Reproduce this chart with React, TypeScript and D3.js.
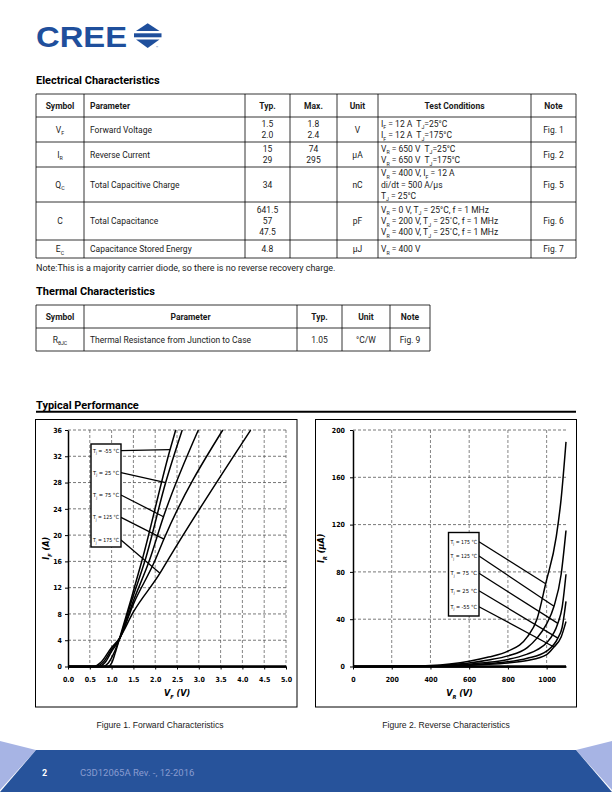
import React, { useEffect, useRef } from "react";
import * as d3 from "d3";

// ---- table content ----
const elecHead = ["Symbol", "Parameter", "Typ.", "Max.", "Unit", "Test Conditions", "Note"];
const elecSymbols = ["V_{F}", "I_{R}", "Q_{C}", "C", "E_{C}"];
const elecParams = ["Forward Voltage", "Reverse Current", "Total Capacitive Charge", "Total Capacitance", "Capacitance Stored Energy"];
const elecTyp = [["1.5", "2.0"], ["15", "29"], ["34"], ["641.5", "57", "47.5"], ["4.8"]];
const elecMax = [["1.8", "2.4"], ["74", "295"], [], [], []];
const elecUnit = ["V", "μA", "nC", "pF", "μJ"];
const elecCond = [
  ["I_{F} = 12 A\u00a0 T_{J}=25°C", "I_{F} = 12 A\u00a0 T_{J}=175°C"],
  ["V_{R} = 650 V\u00a0 T_{J}=25°C", "V_{R} = 650 V\u00a0 T_{J}=175°C"],
  ["V_{R} = 400 V, I_{F} = 12 A", "di/dt = 500 A/μs", "T_{J} = 25°C"],
  ["V_{R} = 0 V, T_{J} = 25°C, f = 1 MHz", "V_{R} = 200 V, T_{J} = 25˚C, f = 1 MHz", "V_{R} = 400 V, T_{J} = 25˚C, f = 1 MHz"],
  ["V_{R} = 400 V"],
];
const elecNote = ["Fig. 1", "Fig. 2", "Fig. 5", "Fig. 6", "Fig. 7"];

const thermHead = ["Symbol", "Parameter", "Typ.", "Unit", "Note"];
const thermRow = ["R_{θJC}", "Thermal Resistance from Junction to Case", "1.05", "°C/W", "Fig. 9"];

// ---- Figure 1: forward characteristics, [VF (V), IF (A)] ----
const tempLabels = ["-55", "25", "75", "125", "175"];
const fwdM55 = [[0, 0], [0.92, 0], [1.0, 0.5], [1.08, 2], [1.17, 4], [1.45, 10.3], [1.7, 16.2], [2.34, 33], [2.47, 36]];
const fwd25 = [[0, 0], [0.8, 0], [0.92, 0.5], [1.05, 2], [1.17, 4], [1.5, 10.8], [1.77, 16.2], [2.24, 28], [2.62, 36]];
const fwd75 = [[0, 0], [0.7, 0], [0.85, 0.6], [1.0, 2.3], [1.17, 4], [1.5, 10], [1.87, 16.2], [2.19, 22.8], [2.99, 36]];
const fwd125 = [[0, 0], [0.65, 0], [0.8, 0.6], [1.0, 2.6], [1.17, 4.1], [1.5, 9.5], [2.0, 16.2], [2.2, 19.4], [3.55, 36]];
const fwd175 = [[0, 0], [0.6, 0], [0.75, 0.6], [1.0, 2.9], [1.17, 4.2], [1.5, 8.3], [2.11, 14.2], [2.29, 16.2], [4.19, 36]];
const fwdTargets = [[2.34, 33], [2.24, 28], [2.19, 22.8], [2.2, 19.4], [2.11, 14.2]];
const fwdXTicks = d3.range(0, 5.01, 0.5);
const fwdYTicks = d3.range(0, 37, 4);

// ---- Figure 2: reverse characteristics, [VR (V), IR (uA)] ----
const revLabels = ["175", "125", "75", "25", "-55"];
const rev175 = [[0, 0], [300, 0.2], [400, 0.8], [500, 2.2], [600, 4.5], [700, 8], [800, 13], [900, 25], [950, 40], [995, 70], [1050, 110], [1075, 142], [1100, 190]];
const rev125 = [[0, 0], [400, 0.5], [500, 1.5], [600, 3], [700, 5.5], [800, 9], [900, 16], [950, 24], [1000, 36], [1038, 51], [1075, 78], [1100, 115]];
const rev75 = [[0, 0], [400, 0.3], [500, 1], [600, 2], [700, 3.5], [800, 6], [900, 10.5], [950, 14], [1000, 20], [1058, 36.5], [1080, 50], [1100, 78]];
const rev25 = [[0, 0], [400, 0.2], [500, 0.6], [600, 1.3], [700, 2.5], [800, 4], [900, 7], [1000, 13], [1058, 24], [1080, 33], [1100, 55]];
const revM55 = [[0, 0], [500, 0.4], [600, 1], [700, 1.8], [800, 3], [900, 5], [1000, 10], [1038, 16.5], [1075, 25], [1100, 38]];
const revTargets = [[995, 70], [1038, 51], [1058, 36.5], [1058, 24], [1038, 16.5]];
const revXTicks = d3.range(0, 1001, 200);
const revYTicks = d3.range(0, 201, 40);

const UI = "Roboto, 'Liberation Sans', sans-serif";
const CH = "'Liberation Sans Narrow', 'DejaVu Sans Condensed', 'Liberation Sans', sans-serif";
const BLUE = "#27539b";

// text with _{sub} parts
const addRich = (parent, x, y, str, o = {}) => {
  const size = o.size || 8;
  const t = parent
    .append("text")
    .attr("x", x)
    .attr("y", y)
    .attr("font-size", size)
    .attr("font-family", o.family || UI)
    .attr("font-weight", o.weight || "normal")
    .attr("font-style", o.style || "normal")
    .attr("text-anchor", o.anchor || "start")
    .attr("fill", o.fill || "#1a1a1a");
  if (o.transform) t.attr("transform", o.transform);
  if (o.len) t.attr("textLength", o.len).attr("lengthAdjust", "spacingAndGlyphs");
  let shifted = false;
  str.split(/(_\{[^}]*\})/).forEach((p) => {
    if (!p) return;
    if (p.startsWith("_{")) {
      t.append("tspan").attr("dy", size * 0.3).attr("font-size", size * 0.62).text(p.slice(2, -1));
      shifted = true;
    } else {
      const ts = t.append("tspan").text(p);
      if (shifted) ts.attr("dy", -size * 0.3);
      shifted = false;
    }
  });
  return t;
};

const drawTable = (g, cols, rows, cells, aligns, headAligns) => {
  rows.forEach((ry) =>
    g.append("line").attr("x1", cols[0]).attr("x2", cols[cols.length - 1]).attr("y1", ry).attr("y2", ry).attr("stroke", "#000").attr("stroke-width", 0.8)
  );
  cols.forEach((cx) =>
    g.append("line").attr("x1", cx).attr("x2", cx).attr("y1", rows[0]).attr("y2", rows[rows.length - 1]).attr("stroke", "#000").attr("stroke-width", 0.8)
  );
  cells.forEach((row, ri) => {
    const yTop = rows[ri];
    const yBot = rows[ri + 1];
    const cy = (yTop + yBot) / 2;
    row.forEach((lines, ci) => {
      const al = ri === 0 ? headAligns[ci] : aligns[ci];
      const x0 = cols[ci];
      const x1 = cols[ci + 1];
      lines.forEach((s, i) => {
        const y = cy + (i - (lines.length - 1) / 2) * 11.3 + 3;
        const x = al.a === "middle" ? (x0 + x1) / 2 : x0 + al.pad;
        addRich(g, x, y, s, { size: 8.5, anchor: al.a, weight: ri === 0 ? "bold" : "normal" });
      });
    });
  });
};

const drawChart = (svg, c) => {
  const x = d3.scaleLinear().domain(c.xDomain).range([c.left, c.right]);
  const y = d3.scaleLinear().domain(c.yDomain).range([c.bottom, c.top]);
  const g = svg.append("g");

  // frame
  g.append("rect").attr("x", c.frame[0]).attr("y", c.frame[1]).attr("width", c.frame[2]).attr("height", c.frame[3])
    .attr("fill", "#fff").attr("stroke", "#000").attr("stroke-width", 1);

  // grid
  c.xGrid.forEach((v) =>
    g.append("line").attr("x1", x(v)).attr("x2", x(v)).attr("y1", c.top).attr("y2", c.bottom)
      .attr("stroke", "#666").attr("stroke-width", 0.8).attr("stroke-dasharray", "3,2")
  );
  c.yTicks.filter((v) => v > 0).forEach((v) =>
    g.append("line").attr("x1", c.left).attr("x2", c.right).attr("y1", y(v)).attr("y2", y(v))
      .attr("stroke", "#555").attr("stroke-width", 0.8).attr("stroke-dasharray", "3,2")
  );

  // curves
  const line = d3.line().x((d) => x(d[0])).y((d) => y(d[1])).curve(d3.curveMonotoneX);
  c.series.forEach((s) =>
    g.append("path").attr("d", line(s)).attr("fill", "none").attr("stroke", "#000").attr("stroke-width", 1.5)
  );

  // axes
  const ya = g.append("g").attr("transform", `translate(${c.left},0)`)
    .call(d3.axisLeft(y).tickValues(c.yTicks).tickSize(3).tickSizeOuter(0).tickPadding(c.yPad));
  const xa = g.append("g").attr("transform", `translate(0,${c.bottom})`)
    .call(d3.axisBottom(x).tickValues(c.xTicks).tickSize(3).tickSizeOuter(0).tickPadding(8).tickFormat(c.xFmt));
  [ya, xa].forEach((a) => {
    a.select(".domain").attr("stroke", "#000").attr("stroke-width", 1.5);
    a.selectAll(".tick line").attr("stroke", "#000");
    a.selectAll("text").attr("font-family", CH).attr("font-size", 7).attr("font-weight", "bold").attr("fill", "#000");
  });
  g.append("line").attr("x1", c.left).attr("x2", c.right).attr("y1", c.bottom).attr("y2", c.bottom)
    .attr("stroke", "#000").attr("stroke-width", 2.5);

  // axis titles
  addRich(g, (c.left + c.right) / 2, 696, c.xTitle, { size: 9, anchor: "middle", weight: "bold", style: "italic", family: CH, fill: "#000" });
  addRich(g, 0, 0, c.yTitle, {
    size: 9, anchor: "middle", weight: "bold", style: "italic", family: CH, fill: "#000",
    transform: `translate(${c.yTitleX},${(c.top + c.bottom) / 2}) rotate(-90)`,
  });

  // label box and leader lines
  const [bx, by, bw, bh] = c.box;
  c.targets.forEach((t, i) =>
    g.append("line").attr("x1", bx + bw).attr("y1", c.labelY[i]).attr("x2", x(t[0])).attr("y2", y(t[1]))
      .attr("stroke", "#000").attr("stroke-width", 1.3)
  );
  g.append("rect").attr("x", bx).attr("y", by).attr("width", bw).attr("height", bh)
    .attr("fill", "#fff").attr("stroke", "#000").attr("stroke-width", 1.4);
  c.labels.forEach((l, i) =>
    addRich(g, bx + 2, c.labelY[i] + 2, `T_{J} = ${l} °C`, { size: 5.6, family: CH, fill: "#000", len: bw - 4 })
  );
};

const App = () => {
  const ref = useRef();

  useEffect(() => {
    const svg = d3.select(ref.current);
    svg.selectAll("*").remove();

    // logo
    svg.append("text").attr("x", 36).attr("y", 47).attr("font-family", "'Liberation Sans', Arial, sans-serif")
      .attr("font-weight", "bold").attr("font-size", 30).attr("fill", "#1f4f9c")
      .attr("textLength", 91).attr("lengthAdjust", "spacingAndGlyphs").text("CREE");
    svg.append("polygon").attr("points", "136,31 159.5,31 147.7,23.3").attr("fill", "#1f4f9c");
    svg.append("rect").attr("x", 134).attr("y", 33.3).attr("width", 27.5).attr("height", 4).attr("fill", "#1f4f9c");
    svg.append("polygon").attr("points", "136,39.5 159.5,39.5 147.7,48").attr("fill", "#1f4f9c");
    svg.append("text").attr("x", 156).attr("y", 48.5).attr("font-size", 3.5).attr("font-family", UI).attr("fill", "#1f4f9c").text("™");

    // Electrical Characteristics
    addRich(svg, 36, 84, "Electrical Characteristics", { size: 11, weight: "bold", fill: "#000" });
    const elecCells = [elecHead.map((h) => [h])].concat(
      elecSymbols.map((s, i) => [[s], [elecParams[i]], elecTyp[i], elecMax[i], [elecUnit[i]], elecCond[i], [elecNote[i]]])
    );
    drawTable(
      svg.append("g"),
      [36, 84, 245, 290, 337, 378, 531, 576],
      [94, 117, 142, 167, 202, 240, 258],
      elecCells,
      [{ a: "middle" }, { a: "start", pad: 6 }, { a: "middle" }, { a: "middle" }, { a: "middle" }, { a: "start", pad: 3 }, { a: "middle" }],
      [{ a: "middle" }, { a: "start", pad: 6 }, { a: "middle" }, { a: "middle" }, { a: "middle" }, { a: "middle" }, { a: "middle" }]
    );
    addRich(svg, 36, 271, "Note:This is a majority carrier diode, so there is no reverse recovery charge.", { size: 9 });

    // Thermal Characteristics
    addRich(svg, 36, 295, "Thermal Characteristics", { size: 11, weight: "bold", fill: "#000" });
    drawTable(
      svg.append("g"),
      [36, 84, 297, 342, 390, 430],
      [305, 328, 351],
      [thermHead.map((h) => [h]), thermRow.map((t) => [t])],
      [{ a: "middle" }, { a: "start", pad: 6 }, { a: "middle" }, { a: "middle" }, { a: "middle" }],
      [{ a: "middle" }, { a: "middle" }, { a: "middle" }, { a: "middle" }, { a: "middle" }]
    );

    // Typical Performance
    addRich(svg, 36, 409, "Typical Performance", { size: 11, weight: "bold", fill: "#000" });
    svg.append("line").attr("x1", 36).attr("x2", 576).attr("y1", 411.8).attr("y2", 411.8).attr("stroke", "#000").attr("stroke-width", 2);

    drawChart(svg, {
      frame: [35.5, 419.5, 261.5, 287.5],
      xDomain: [0, 5], yDomain: [0, 36],
      left: 68, right: 286, top: 430, bottom: 666.5,
      xTicks: fwdXTicks, yTicks: fwdYTicks, xGrid: fwdXTicks.filter((v) => v > 0),
      xFmt: d3.format(".1f"), yPad: 3,
      series: [fwdM55, fwd25, fwd75, fwd125, fwd175],
      targets: fwdTargets, labels: tempLabels,
      box: [91, 444, 30, 103], labelY: [450.7, 472.7, 495, 517.3, 540],
      xTitle: "V_{F} (V)", yTitle: "I_{F} (A)", yTitleX: 49,
    });

    drawChart(svg, {
      frame: [315.5, 419.5, 261, 287.5],
      xDomain: [0, 1100], yDomain: [0, 200],
      left: 353, right: 566, top: 430, bottom: 666.5,
      xTicks: revXTicks, yTicks: revYTicks, xGrid: revXTicks.filter((v) => v > 0),
      xFmt: d3.format("d"), yPad: 5,
      series: [rev175, rev125, rev75, rev25, revM55],
      targets: revTargets, labels: revLabels,
      box: [448.5, 532.5, 30.5, 83.5], labelY: [541.7, 556, 573.3, 590.7, 606.7],
      xTitle: "V_{R} (V)", yTitle: "I_{R} (μA)", yTitleX: 324,
    });

    // captions
    addRich(svg, 160, 728, "Figure 1. Forward Characteristics", { size: 8.6, anchor: "middle", family: "'Liberation Sans', Arial, sans-serif" });
    addRich(svg, 446, 728, "Figure 2. Reverse Characteristics", { size: 8.6, anchor: "middle", family: "'Liberation Sans', Arial, sans-serif" });

    // footer
    svg.append("polygon").attr("points", "0,741 36,750 0,790").attr("fill", "#a7b4e4");
    svg.append("polygon").attr("points", "612,741 576,750 612,790").attr("fill", "#a7b4e4");
    svg.append("polygon").attr("points", "36,750 576,750 612,792 0,792").attr("fill", BLUE);
    svg.append("text").attr("x", 42).attr("y", 776).attr("font-family", UI).attr("font-weight", "bold")
      .attr("font-size", 9).attr("fill", "#fff").text("2");
    svg.append("text").attr("x", 80).attr("y", 776).attr("font-family", UI)
      .attr("font-size", 9.5).attr("fill", "#8a9cd0").text("C3D12065A Rev. -, 12-2016");
  }, []);

  return <svg ref={ref} width={612} height={792} style={{ position: "absolute", left: 0, top: 0, background: "#fff" }} />;
};

export default App;
